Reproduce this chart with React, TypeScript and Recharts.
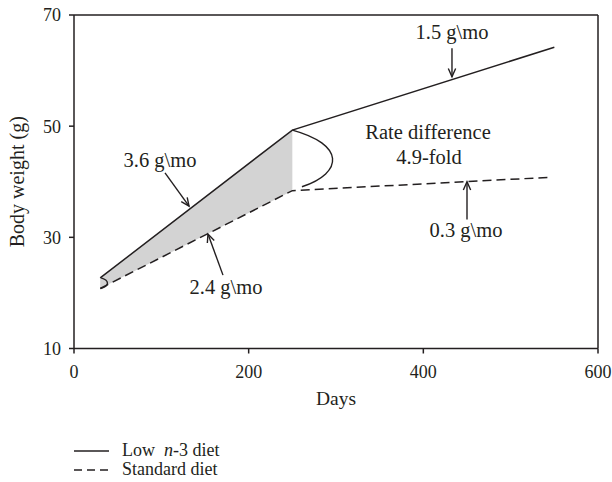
import React from "react";
import {
  ComposedChart,
  Line,
  Area,
  XAxis,
  YAxis,
  Legend,
  ReferenceLine,
  ReferenceDot,
} from "recharts";

const FONT = "'Liberation Serif', 'DejaVu Serif', serif";
const INK = "#231f20";

// days on the x axis
const lowDays = [30, 250, 550];
const standardDays = [30, 250, 545];
// body weight (g)
const lowN3 = [22.7, 49.3, 64.2];
const standard = [20.8, 38.4, 40.8];

const xTicks = [0, 200, 400, 600];
const yTicks = [10, 30, 50, 70];

const allDays = Array.from(new Set([...lowDays, ...standardDays])).sort((a, b) => a - b);
const data = allDays.map((day) => {
  const li = lowDays.indexOf(day);
  const si = standardDays.indexOf(day);
  const low = li >= 0 ? lowN3[li] : undefined;
  const std = si >= 0 ? standard[si] : undefined;
  return {
    day,
    low,
    std,
    // shaded gap only up to the diet change
    band: day <= 250 && low !== undefined && std !== undefined ? [std, low] : undefined,
  };
});

// annotation texts placed in data units
const notes = [
  { x: 98.5, y: 43.9, text: "3.6 g\\mo" },
  { x: 174, y: 21.1, text: "2.4 g\\mo" },
  { x: 432.8, y: 66.9, text: "1.5 g\\mo" },
  { x: 405.4, y: 48.95, text: "Rate difference" },
  { x: 406.5, y: 44.45, text: "4.9-fold" },
  { x: 448.9, y: 31.3, text: "0.3 g\\mo" },
];

const arrows = [
  { from: [104.2, 41.6], to: [131.7, 35.6] },
  { from: [170.6, 23.2], to: [153.4, 30.6] },
  { from: [432.8, 64.0], to: [432.8, 58.9] },
  { from: [450, 33.2], to: [450, 40.0] },
];

const brackets = [
  { from: [250, 49.3], to: [261, 39.1], bulge: 52 },
  { from: [31, 22.7], to: [30.5, 20.8], bulge: 9 },
];

const legendItems = [
  { key: "low", dash: undefined, label: <>Low&nbsp; <i>n</i>-3 diet</> },
  { key: "std", dash: "8 5", label: <>Standard diet</> },
];

const ArrowShape = (props: any) => {
  const { x1, y1, x2, y2 } = props;
  const ang = Math.atan2(y2 - y1, x2 - x1);
  const len = 9;
  const spread = 0.42;
  const a = [x2 - len * Math.cos(ang - spread), y2 - len * Math.sin(ang - spread)];
  const b = [x2 - len * Math.cos(ang + spread), y2 - len * Math.sin(ang + spread)];
  return (
    <g>
      <line x1={x1} y1={y1} x2={x2} y2={y2} stroke={INK} strokeWidth={1.4} />
      <polyline
        points={`${a[0]},${a[1]} ${x2},${y2} ${b[0]},${b[1]}`}
        fill="none"
        stroke={INK}
        strokeWidth={1.4}
      />
    </g>
  );
};

const bracketShape = (bulge: number) => (props: any) => {
  const { x1, y1, x2, y2 } = props;
  const cx = Math.min(x1, x2) + bulge;
  const d = `M${x1},${y1} C${cx},${y1 + (y2 - y1) * 0.25} ${cx},${y1 + (y2 - y1) * 0.75} ${x2},${y2}`;
  return <path d={d} fill="none" stroke={INK} strokeWidth={1.4} />;
};

const noteShape = (text: string) => (props: any) => (
  <text
    x={props.cx}
    y={props.cy}
    textAnchor="middle"
    dominantBaseline="central"
    fontFamily={FONT}
    fontSize={20.5}
    fill={INK}
  >
    {text}
  </text>
);

const renderLegend = () => (
  <div style={{ fontFamily: FONT, fontSize: 18, color: INK }}>
    {legendItems.map((item) => (
      <div key={item.key} style={{ display: "flex", alignItems: "center", height: 19 }}>
        <svg width={35} height={4}>
          <line x1={0} y1={2} x2={35} y2={2} stroke={INK} strokeWidth={1.4} strokeDasharray={item.dash} />
        </svg>
        <span style={{ marginLeft: 13, whiteSpace: "nowrap" }}>{item.label}</span>
      </div>
    ))}
  </div>
);

export default function App() {
  return (
    <div
      style={{
        position: "absolute",
        left: 0,
        top: 0,
        width: 612,
        height: 482,
        overflow: "hidden",
        background: "#fff",
      }}
    >
      <ComposedChart
        width={612}
        height={482}
        data={data}
        margin={{ top: 15, right: 14, left: 14, bottom: 93.5 }}
      >
        <XAxis
          dataKey="day"
          type="number"
          domain={[0, 600]}
          ticks={xTicks}
          tickSize={5}
          tickMargin={12}
          height={40}
          stroke={INK}
          strokeWidth={1.5}
          tick={{ fill: INK, fontFamily: FONT, fontSize: 18 }}
          label={{
            value: "Days",
            position: "insideTop",
            offset: 43,
            fill: INK,
            fontFamily: FONT,
            fontSize: 19.5,
          }}
        />
        <YAxis
          type="number"
          domain={[10, 70]}
          ticks={yTicks}
          tickSize={5}
          tickMargin={8}
          width={60}
          stroke={INK}
          strokeWidth={1.5}
          tick={{ fill: INK, fontFamily: FONT, fontSize: 18 }}
          label={{
            value: "Body weight (g)",
            angle: -90,
            position: "insideLeft",
            offset: 3,
            fill: INK,
            fontFamily: FONT,
            fontSize: 20,
            style: { textAnchor: "middle" },
          }}
        />
        <ReferenceLine y={70} stroke={INK} strokeWidth={1.5} />
        <ReferenceLine x={600} stroke={INK} strokeWidth={1.5} />
        <Area
          dataKey="band"
          type="linear"
          fill="#d3d3d3"
          fillOpacity={1}
          stroke="none"
          isAnimationActive={false}
          legendType="none"
        />
        <Line
          dataKey="low"
          type="linear"
          stroke={INK}
          strokeWidth={1.5}
          dot={false}
          connectNulls
          isAnimationActive={false}
        />
        <Line
          dataKey="std"
          type="linear"
          stroke={INK}
          strokeWidth={1.5}
          strokeDasharray="9 5"
          dot={false}
          connectNulls
          isAnimationActive={false}
        />
        {brackets.map((b, i) => (
          <ReferenceLine
            key={`br${i}`}
            segment={[
              { x: b.from[0], y: b.from[1] },
              { x: b.to[0], y: b.to[1] },
            ]}
            shape={bracketShape(b.bulge)}
          />
        ))}
        {arrows.map((a, i) => (
          <ReferenceLine
            key={`ar${i}`}
            segment={[
              { x: a.from[0], y: a.from[1] },
              { x: a.to[0], y: a.to[1] },
            ]}
            shape={ArrowShape}
          />
        ))}
        {notes.map((n, i) => (
          <ReferenceDot key={`nt${i}`} x={n.x} y={n.y} r={0} shape={noteShape(n.text)} />
        ))}
        <Legend
          layout="vertical"
          align="center"
          verticalAlign="middle"
          content={renderLegend}
          wrapperStyle={{ left: 74, top: 441, width: 240 }}
        />
      </ComposedChart>
    </div>
  );
}
